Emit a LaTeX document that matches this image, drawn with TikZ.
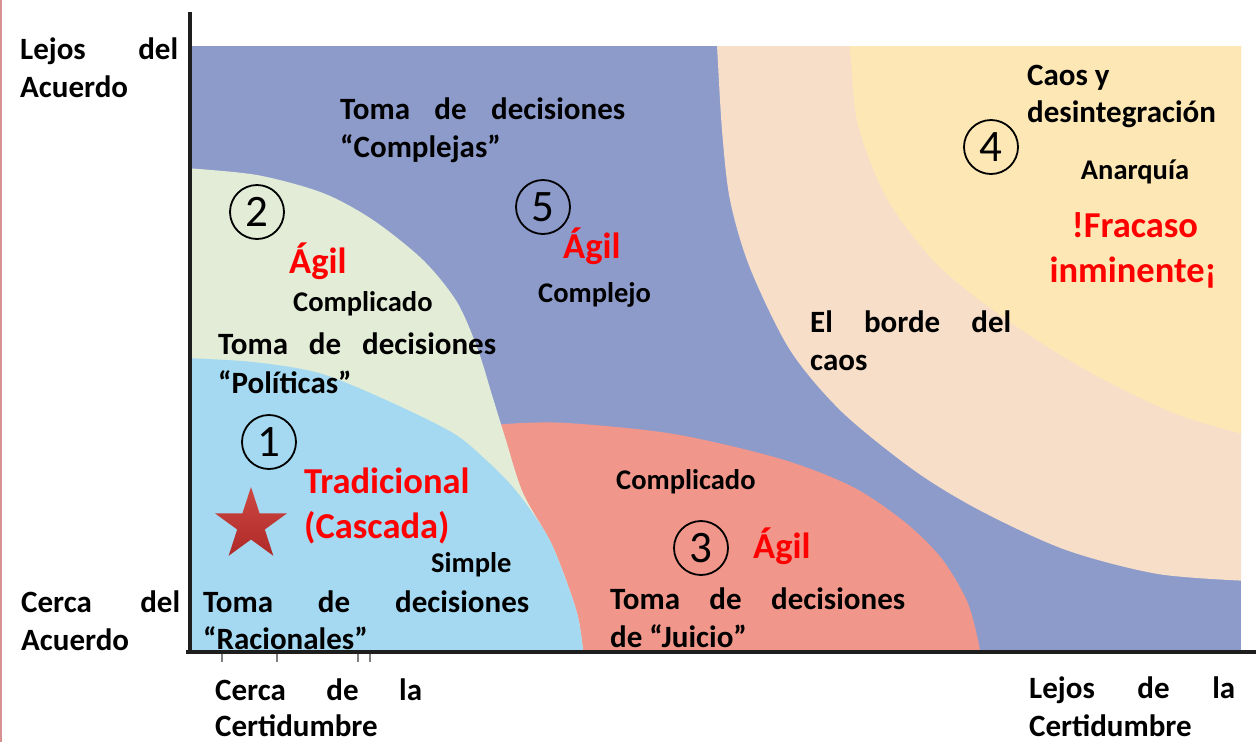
\documentclass[tikz,border=0pt]{standalone}
\usepackage{fontspec}
\setmainfont{Carlito}
\usetikzlibrary{shapes.geometric}
\definecolor{bgblue}{RGB}{141,155,203}
\definecolor{peach}{RGB}{247,222,201}
\definecolor{yell}{RGB}{253,231,180}
\definecolor{salmon}{RGB}{240,150,139}
\definecolor{pgreen}{RGB}{226,236,214}
\definecolor{lblue}{RGB}{164,217,241}
\definecolor{redtxt}{RGB}{255,0,0}
\definecolor{startop}{RGB}{205,72,66}
\definecolor{starbot}{RGB}{175,42,40}
\definecolor{axiscol}{RGB}{30,30,30}
\definecolor{edgepink}{RGB}{215,145,145}
\tikzset{
  lbl/.style={font=\bfseries\fontsize{31}{38}\selectfont, inner sep=0pt, anchor=base west},
  sml/.style={font=\bfseries\fontsize{28.5}{34}\selectfont, inner sep=0pt, anchor=base west},
  redlbl/.style={font=\bfseries\fontsize{36.5}{44}\selectfont, text=redtxt, inner sep=0pt, anchor=base west},
  circnum/.style={circle, draw=black, line width=1.8pt, minimum size=54pt, inner sep=0pt, font=\fontsize{45}{45}\selectfont},
  axisline/.style={draw=axiscol, line width=4pt},
  tickline/.style={draw=gray, line width=1.2pt}
}
\begin{document}
\begin{tikzpicture}[x=1pt,y=-1pt]
\useasboundingbox (0,0) rectangle (1256,742);
\fill[white] (0,0) rectangle (1256,742);
% coloured field
\begin{scope}
\clip (192,46) rectangle (1241,650);
\fill[bgblue] (192,46) rectangle (1241,650);
\fill[peach] plot[smooth] coordinates {(716,40) (717,46) (722,130) (730,200) (750,268) (790,350) (842,412) (915,471) (981,511) (1066,550) (1158,574) (1250,581)} -- (1250,40) -- cycle;
\fill[yell] plot[smooth] coordinates {(849,40) (851,60) (858,125) (886,197) (930,257) (974,296) (1029,335) (1095,375) (1176,414) (1250,436)} -- (1250,40) -- cycle;
\fill[salmon] plot[smooth] coordinates {(470,430) (506,424) (567,423) (674,434) (781,459) (853,487) (906,523) (942,559) (967,601) (978,640) (981,660)} -- (470,660) -- cycle;
\fill[pgreen] plot[smooth] coordinates {(185,168) (257,175) (323,193) (373,220) (423,260) (457,302) (478,350) (492,395) (505,437) (523,493) (553,547) (577,613) (584,660)} -- (185,660) -- cycle;
\fill[lblue] plot[smooth] coordinates {(185,358) (253,362) (319,373) (386,400) (453,433) (486,460) (512,486) (534,515) (553,547) (577,613) (584,660)} -- (185,660) -- cycle;
\end{scope}
% left edge line
\draw[edgepink, line width=2pt] (1,0) -- (1,742);
% axes
\coordinate (vtop) at (190,12);
\coordinate (vbot) at (190,654);
\coordinate (hleft) at (186,652);
\coordinate (hright) at (1256,652);
\draw[axisline] (vtop) -- (vbot);
\draw[axisline] (hleft) -- (hright);
\foreach \tx/\nm in {222/ta,277/tb,358/tc,370/td}{
  \coordinate (\nm1) at (\tx,654);
  \coordinate (\nm2) at (\tx,662);
  \draw[tickline] (\nm1) -- (\nm2);
}
% axis labels
\node[lbl] (ly1) at (20,59) {\hbox to 158pt{Lejos\hfill del}};
\node[lbl] (ly2) at (20,97) {Acuerdo};
\node[lbl] (cy1) at (21,612) {\hbox to 159pt{Cerca\hfill del}};
\node[lbl] (cy2) at (21,650) {Acuerdo};
\node[lbl] (cx1) at (215,700) {\hbox to 207pt{Cerca\hfill de\hfill la}};
\node[lbl] (cx2) at (215,736) {Certidumbre};
\node[lbl] (lx1) at (1029,698) {\hbox to 206pt{Lejos\hfill de\hfill la}};
\node[lbl] (lx2) at (1029,736) {Certidumbre};
% region 5
\node[lbl] (t5a) at (340,119) {\hbox to 285pt{Toma\hfill de\hfill decisiones}};
\node[lbl] (t5b) at (340,157) {“Complejas”};
\node[circnum] (n5) at (543,207) {5};
\node[redlbl] (a5) at (563,258) {Ágil};
\node[sml] (c5) at (538,302) {Complejo};
% region 2
\node[circnum] (n2) at (257,212) {2};
\node[redlbl] (a2) at (289,273) {Ágil};
\node[sml] (c2) at (293,311) {Complicado};
\node[lbl] (t2a) at (218,354) {\hbox to 278pt{Toma\hfill de\hfill decisiones}};
\node[lbl] (t2b) at (218,393) {“Políticas”};
% region 1
\node[circnum] (n1) at (269,442) {1};
\node[star, star points=5, star point ratio=2.618, top color=startop, bottom color=starbot, minimum size=76pt, inner sep=0pt] (st) at (251,525) {};
\node[redlbl] (tr1) at (304,493) {Tradicional};
\node[redlbl] (tr2) at (304,538) {(Cascada)};
\node[sml] (s1) at (431,572) {Simple};
\node[lbl] (t1a) at (203,612) {\hbox to 326pt{Toma\hfill de\hfill decisiones}};
\node[lbl] (t1b) at (203,649) {“Racionales”};
% region 3
\node[sml] (c3) at (616,489) {Complicado};
\node[circnum] (n3) at (701,548) {3};
\node[redlbl] (a3) at (753,558) {Ágil};
\node[lbl] (t3a) at (610,609) {\hbox to 295pt{Toma\hfill de\hfill decisiones}};
\node[lbl] (t3b) at (610,647) {de “Juicio”};
% region 4
\node[lbl] (e1) at (810,332) {\hbox to 201pt{El\hfill borde\hfill del}};
\node[lbl] (e2) at (810,370) {caos};
\node[circnum] (n4) at (991,147) {4};
\node[lbl] (k1) at (1027,85) {Caos y};
\node[lbl] (k2) at (1027,122) {desintegración};
\node[sml, anchor=base] (an) at (1135,179) {Anarquía};
\node[redlbl, anchor=base] (f1) at (1135,237) {!Fracaso};
\node[redlbl, anchor=base] (f2) at (1133,282) {inminente¡};
\end{tikzpicture}
\end{document}
